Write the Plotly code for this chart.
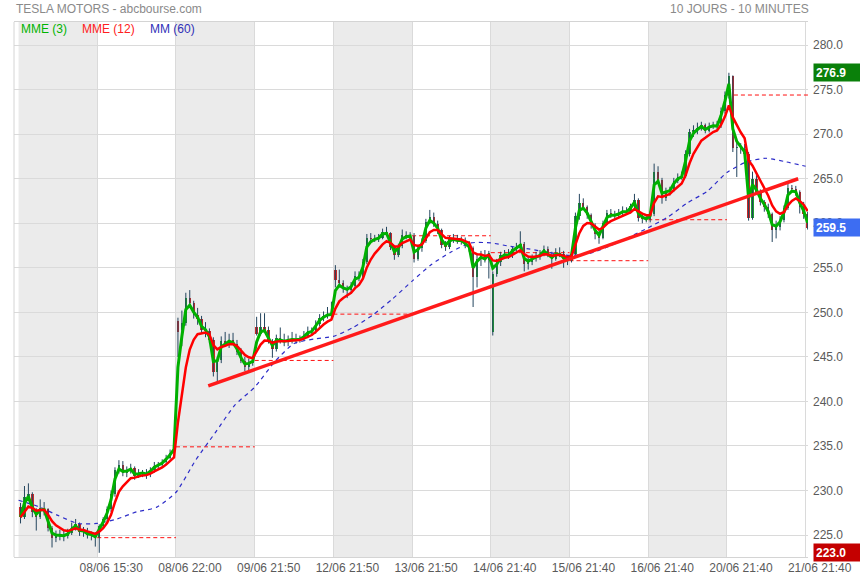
import plotly.graph_objects as go
import pandas as pd

# ---------------- data ----------------
# 10 sessions, 20 sampled bars per session (21 in the last one)
tick_labels = ["08/06 15:30", "08/06 22:00", "09/06 21:50", "12/06 21:50", "13/06 21:50",
               "14/06 21:40", "15/06 21:40", "16/06 21:40", "20/06 21:40", "21/06 21:40"]

open_s = [
    [228.2, 227.0, 229.3, 229.6, 227.6, 227.0, 228.0, 227.9, 225.8, 224.7, 224.9, 225.0, 224.9, 225.2, 225.9, 226.2, 225.3, 225.4, 225.0, 225.0],
    [224.7, 226.0, 226.8, 227.9, 229.6, 232.3, 232.9, 232.0, 232.2, 232.5, 231.6, 231.9, 232.0, 231.8, 232.3, 232.8, 232.9, 233.2, 233.7, 234.2],
    [249.0, 248.0, 248.8, 251.6, 251.0, 249.7, 249.2, 248.0, 247.9, 246.9, 243.3, 244.6, 246.8, 246.6, 246.9, 246.5, 245.6, 244.5, 243.9, 244.3],
    [248.4, 247.6, 248.3, 248.0, 246.8, 245.9, 247.1, 246.9, 246.7, 246.9, 247.0, 246.9, 247.0, 247.4, 247.9, 247.9, 248.7, 249.4, 249.6, 249.8],
    [254.8, 253.6, 253.3, 252.6, 252.5, 253.0, 254.1, 254.0, 255.6, 258.3, 258.2, 258.3, 258.4, 259.0, 258.9, 257.3, 256.4, 257.4, 258.7, 258.6],
    [258.6, 256.0, 257.2, 258.0, 260.2, 260.7, 259.9, 259.2, 257.6, 257.3, 258.2, 258.3, 258.0, 258.1, 257.6, 257.2, 254.0, 256.0, 256.4, 255.9],
    [247.8, 254.3, 255.6, 256.4, 256.6, 256.4, 257.1, 257.3, 257.7, 255.4, 255.6, 256.1, 256.3, 256.5, 257.1, 256.4, 256.0, 256.7, 256.5, 256.0],
    [255.8, 256.6, 260.8, 262.3, 261.8, 260.9, 259.8, 258.8, 258.4, 260.0, 261.1, 261.0, 260.9, 261.1, 261.4, 261.3, 261.9, 262.6, 260.6, 260.5],
    [260.4, 261.0, 265.8, 264.9, 262.8, 263.6, 263.7, 264.8, 265.2, 265.3, 267.8, 270.2, 270.5, 270.7, 271.0, 270.4, 270.9, 271.0, 270.9, 272.6],
    [274.4, 276.5, 268.4, 268.6, 268.3, 267.8, 260.6, 265.0, 263.5, 262.4, 261.8, 261.0, 259.2, 259.6, 260.4, 261.7, 264.0, 263.8, 263.5, 261.8, 261.0],
]
high_s = [
    [228.6, 230.5, 230.8, 229.8, 228.0, 229.0, 228.7, 228.0, 226.0, 225.5, 225.6, 225.5, 225.7, 226.4, 226.8, 226.4, 225.9, 225.8, 225.4, 225.3],
    [226.2, 227.0, 228.2, 230.0, 232.6, 233.4, 233.3, 232.7, 233.0, 232.7, 232.4, 232.3, 232.4, 232.6, 233.2, 233.2, 233.5, 234.0, 234.6, 235.4],
    [249.4, 250.2, 252.2, 252.5, 251.3, 250.5, 249.6, 248.9, 248.2, 247.2, 245.0, 247.3, 247.8, 247.6, 247.7, 246.9, 246.0, 245.0, 244.8, 245.1],
    [249.5, 249.9, 249.9, 248.4, 247.0, 247.5, 248.3, 247.6, 247.4, 247.8, 247.6, 247.4, 247.9, 248.4, 248.3, 249.1, 249.8, 250.1, 250.6, 251.2],
    [255.3, 254.8, 253.6, 253.0, 253.4, 254.6, 254.6, 256.0, 258.8, 258.9, 258.7, 258.8, 259.4, 259.6, 259.0, 257.5, 257.7, 259.3, 259.1, 259.0],
    [258.9, 257.6, 258.3, 260.5, 261.5, 261.2, 260.3, 259.4, 258.0, 258.6, 258.8, 258.7, 258.5, 258.4, 258.0, 257.4, 256.6, 256.9, 257.0, 256.9],
    [254.6, 256.0, 256.8, 257.0, 257.1, 257.4, 257.8, 259.1, 257.9, 256.2, 256.5, 256.8, 257.0, 257.5, 257.4, 256.8, 257.2, 257.3, 256.9, 256.4],
    [256.9, 261.2, 263.3, 262.8, 262.0, 261.1, 260.0, 259.2, 260.3, 261.5, 261.6, 261.4, 261.6, 261.9, 261.8, 262.2, 263.3, 262.8, 261.0, 261.0],
    [261.4, 266.7, 266.4, 265.1, 264.0, 264.1, 265.1, 265.6, 265.8, 268.2, 270.6, 271.0, 271.3, 271.4, 271.2, 271.3, 271.4, 271.5, 273.0, 274.8],
    [276.9, 276.6, 269.2, 269.0, 268.9, 268.0, 265.8, 265.4, 263.8, 262.6, 262.2, 261.2, 260.3, 260.8, 262.0, 264.5, 264.3, 264.2, 263.7, 262.4, 261.3],
]
low_s = [
    [226.3, 226.8, 228.8, 227.0, 225.5, 226.8, 227.2, 225.4, 223.6, 224.2, 224.4, 224.3, 224.6, 225.0, 225.5, 224.9, 224.8, 224.6, 224.4, 223.7],
    [223.0, 225.7, 226.5, 227.6, 229.3, 231.9, 231.6, 231.5, 231.9, 231.2, 231.4, 231.5, 231.3, 231.5, 232.0, 232.4, 232.6, 233.0, 233.5, 234.0],
    [245.0, 246.2, 248.5, 250.8, 249.3, 248.6, 247.6, 247.2, 246.5, 242.8, 242.2, 244.3, 246.2, 246.0, 246.3, 245.2, 244.3, 243.4, 243.5, 244.0],
    [247.4, 247.4, 247.8, 246.5, 244.9, 245.6, 246.5, 246.2, 246.2, 246.5, 246.5, 246.6, 246.8, 247.1, 247.4, 247.6, 248.4, 249.0, 249.3, 249.4],
    [252.8, 253.0, 252.2, 251.6, 252.1, 252.8, 253.5, 253.8, 255.4, 257.8, 257.9, 257.9, 258.2, 258.6, 257.0, 255.9, 256.2, 257.2, 258.2, 258.2],
    [255.6, 255.8, 256.8, 257.8, 259.9, 259.6, 258.8, 257.2, 256.9, 257.1, 257.8, 257.7, 257.6, 257.2, 256.8, 250.6, 252.8, 255.2, 255.6, 253.8],
    [247.4, 254.0, 255.2, 256.0, 256.0, 256.1, 256.8, 257.0, 254.6, 254.8, 255.3, 255.7, 255.9, 256.3, 256.2, 254.9, 255.8, 256.2, 255.0, 255.3],
    [255.6, 256.4, 260.4, 261.5, 260.5, 259.4, 258.2, 257.7, 258.2, 259.8, 260.6, 260.5, 260.6, 260.8, 261.0, 261.1, 261.7, 260.2, 260.0, 260.1],
    [260.1, 260.8, 264.6, 262.2, 262.5, 263.1, 263.5, 264.5, 264.9, 265.1, 267.5, 269.7, 270.0, 270.4, 270.1, 270.2, 270.6, 270.5, 270.7, 272.3],
    [274.0, 268.0, 265.2, 267.8, 267.6, 260.3, 260.4, 263.2, 262.0, 261.3, 260.6, 257.9, 258.3, 259.2, 260.1, 261.5, 263.4, 263.1, 261.1, 260.5, 259.3],
]
close_s = [
    [227.0, 229.3, 229.6, 227.6, 227.0, 228.0, 227.9, 225.8, 224.7, 224.9, 225.0, 224.9, 225.2, 225.9, 226.2, 225.3, 225.4, 225.0, 225.0, 224.7],
    [226.0, 226.8, 227.9, 229.6, 232.3, 232.9, 232.0, 232.2, 232.5, 231.6, 231.9, 232.0, 231.8, 232.3, 232.8, 232.9, 233.2, 233.7, 234.2, 234.9],
    [247.8, 248.8, 251.6, 251.0, 249.7, 249.2, 248.0, 247.9, 246.9, 243.3, 244.6, 246.8, 246.6, 246.9, 246.5, 245.6, 244.5, 243.9, 244.3, 244.6],
    [247.6, 248.3, 248.0, 246.8, 245.9, 247.1, 246.9, 246.7, 246.9, 247.0, 246.9, 247.0, 247.4, 247.9, 247.9, 248.7, 249.4, 249.6, 249.8, 249.8],
    [253.6, 253.3, 252.6, 252.5, 253.0, 254.1, 254.0, 255.6, 258.3, 258.2, 258.3, 258.4, 259.0, 258.9, 257.3, 256.4, 257.4, 258.7, 258.6, 258.6],
    [256.0, 257.2, 258.0, 260.2, 260.7, 259.9, 259.2, 257.6, 257.3, 258.2, 258.3, 258.0, 258.1, 257.6, 257.2, 254.0, 256.0, 256.4, 255.9, 256.7],
    [254.3, 255.6, 256.4, 256.6, 256.4, 257.1, 257.3, 257.7, 255.4, 255.6, 256.1, 256.3, 256.5, 257.1, 256.4, 256.0, 256.7, 256.5, 256.0, 255.8],
    [256.6, 260.8, 262.3, 261.8, 260.9, 259.8, 258.8, 258.4, 260.0, 261.1, 261.0, 260.9, 261.1, 261.4, 261.3, 261.9, 262.6, 260.6, 260.5, 260.4],
    [261.0, 265.8, 264.9, 262.8, 263.6, 263.7, 264.8, 265.2, 265.3, 267.8, 270.2, 270.5, 270.7, 271.0, 270.4, 270.9, 271.0, 270.9, 272.6, 274.4],
    [276.5, 268.4, 268.6, 268.3, 267.8, 260.6, 265.0, 263.5, 262.4, 261.8, 261.0, 259.2, 259.6, 260.4, 261.7, 264.0, 263.8, 263.5, 261.8, 261.0, 259.5],
]

# MM(60) every quarter session
mm60_vals = [228.9, 228.2, 227.2, 226.3, 226.3, 226.8, 227.6, 228.1, 229.8, 233.4, 236.5, 239.6,
             241.6, 244.4, 246.5, 247.0, 247.3, 248.3, 249.7, 251.5, 253.5, 255.4, 256.8, 257.8,
             257.8, 257.4, 257.1, 256.7, 256.4, 256.6, 257.4, 258.4, 259.5, 260.7, 262.3, 263.6,
             265.7, 266.9, 267.3, 266.9, 266.4]

# hand-drawn trend line (session units, price)
trend_x = [2.41, 9.905]
trend_y = [241.75, 265.0]

last_price = 259.5
max_price = 276.9
min_price = 223.0

# ---------------- build ----------------
per = 20
o = [v for s in open_s for v in s]
h = [v for s in high_s for v in s]
l = [v for s in low_s for v in s]
c = [v for s in close_s for v in s]
n = len(c)
x = [(j + 0.5) / per for j in range(n)]

# indicators (each sampled bar is ~2 original 10-min bars)
cs = pd.Series(c)
mme3 = cs.ewm(alpha=0.7, adjust=False).mean()
mme12 = cs.ewm(alpha=0.28, adjust=False).mean()
mm60_x = [i * 0.25 for i in range(len(mm60_vals))]

FONT = "Liberation Sans, Arial, sans-serif"
fig = go.Figure()

# previous-session close, dashed
for k in range(1, 10):
    prev_close = close_s[k - 1][-1]
    fig.add_trace(go.Scatter(x=[k, k + 1 if k < 9 else 10.03], y=[prev_close, prev_close],
                             mode="lines", line=dict(color="#ff1010", width=1, dash="4px,3px"),
                             hoverinfo="skip"))

# wicks
wx, wy = [], []
for xi, hi, lo in zip(x, h, l):
    wx += [xi, xi, None]
    wy += [lo, hi, None]
fig.add_trace(go.Scatter(x=wx, y=wy, mode="lines", line=dict(color="#24455e", width=1),
                         hoverinfo="skip"))
# bodies
base = [min(a, b) for a, b in zip(o, c)]
hgt = [max(abs(b - a), 0.08) for a, b in zip(o, c)]
cols = ["#1c9e2e" if b >= a else "#c62828" for a, b in zip(o, c)]
fig.add_trace(go.Bar(x=x, y=hgt, base=base, width=0.03, marker=dict(color=cols, line=dict(width=0)),
                     hoverinfo="skip"))

fig.add_trace(go.Scatter(x=mm60_x, y=mm60_vals, mode="lines",
                         line=dict(color="#2c2cc8", width=1.2, dash="4px,4px", shape="spline", smoothing=0.6),
                         hoverinfo="skip"))
fig.add_trace(go.Scatter(x=x, y=mme3, mode="lines", line=dict(color="#00b000", width=3),
                         hoverinfo="skip"))
fig.add_trace(go.Scatter(x=x, y=mme12, mode="lines", line=dict(color="#ff0000", width=2.5),
                         hoverinfo="skip"))
fig.add_trace(go.Scatter(x=trend_x, y=trend_y, mode="lines", line=dict(color="#ff1a1a", width=3.5),
                         hoverinfo="skip"))

shapes = []
for k in range(0, 10, 2):
    shapes.append(dict(type="rect", xref="x", yref="paper", x0=k, x1=k + 1, y0=0, y1=1,
                       fillcolor="#ebebeb", line=dict(width=0), layer="below"))
shapes.append(dict(type="line", xref="paper", yref="paper", x0=0, x1=0, y0=0, y1=1,
                   line=dict(color="#d4d4d4", width=1)))

ann = [
    dict(text="TESLA MOTORS - abcbourse.com", xref="paper", yref="paper", x=0, y=1.025,
         xanchor="left", yanchor="middle", showarrow=False, font=dict(size=12, color="#8a8a8a")),
    dict(text="10 JOURS - 10 MINUTES", xref="paper", yref="paper", x=1.0038, y=1.025,
         xanchor="right", yanchor="middle", showarrow=False, font=dict(size=12, color="#8a8a8a")),
    dict(text="MME (3)", xref="paper", yref="paper", x=0.0067, y=0.986, xanchor="left",
         yanchor="middle", showarrow=False, font=dict(size=12, color="#00b400")),
    dict(text="MME (12)", xref="paper", yref="paper", x=0.0831, y=0.986, xanchor="left",
         yanchor="middle", showarrow=False, font=dict(size=12, color="#ff2020")),
    dict(text="MM (60)", xref="paper", yref="paper", x=0.1688, y=0.986, xanchor="left",
         yanchor="middle", showarrow=False, font=dict(size=12, color="#3030b8")),
]
for val, bg in [(max_price, "#0a800a"), (last_price, "#3d6df2"), (min_price, "#c40000")]:
    ann.append(dict(text="<b>%.1f</b>" % val, xref="paper", yref="y", x=1.0063, y=val,
                    xanchor="left", yanchor="middle", showarrow=False, width=43, height=13,
                    align="left", bgcolor=bg, borderpad=2,
                    font=dict(size=12, color="white")))

fig.update_layout(
    width=860, height=580, margin=dict(l=14, r=52, t=22, b=23, autoexpand=False),
    paper_bgcolor="white", plot_bgcolor="white", showlegend=False,
    font=dict(family=FONT, size=12, color="#555555"),
    shapes=shapes, annotations=ann, bargap=0, hovermode=False,
    xaxis=dict(range=[-0.058, 10.03], tickvals=list(range(1, 11)), ticktext=tick_labels,
               showgrid=True, gridcolor="#dadada", gridwidth=1, zeroline=False,
               showline=True, mirror=True, linecolor="#d4d4d4", linewidth=1, automargin=False,
               ticks="", ticklabelshift=14, tickfont=dict(size=12, color="#5a5a5a")),
    yaxis=dict(range=[222.53, 282.6], side="right", tickvals=list(range(225, 281, 5)),
               tickformat=".1f", showgrid=True, gridcolor="#dadada", zeroline=False, automargin=False,
               ticks="", ticklabelstandoff=4, tickfont=dict(size=12, color="#5a5a5a")),
)

fig.write_html("out.html", config={"displayModeBar": False, "staticPlot": True},
               post_script="document.body.style.margin='0px';document.body.style.overflow='hidden';")
